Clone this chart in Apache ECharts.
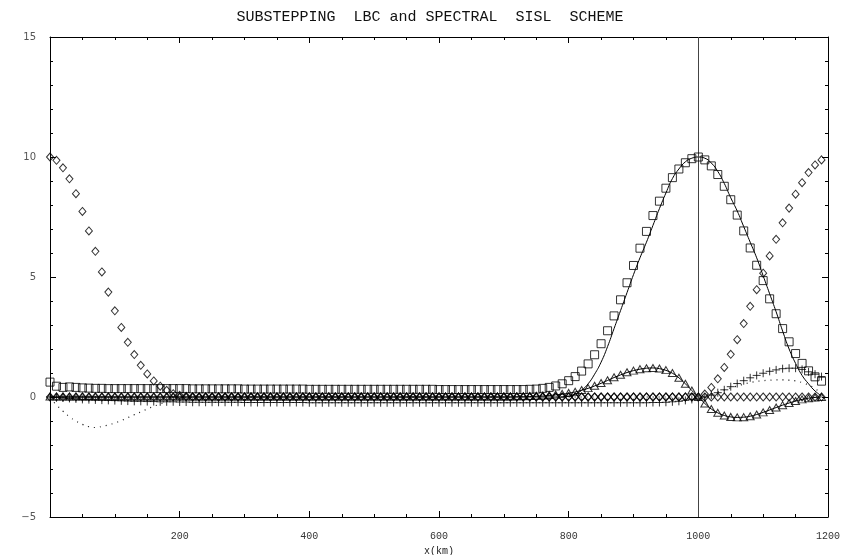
<!DOCTYPE html>
<html><head><meta charset="utf-8">
<script src="https://cdn.jsdelivr.net/npm/echarts@6/dist/echarts.min.js"></script>
<style>html,body{margin:0;padding:0;background:#fff}#c{width:860px;height:555px}</style>
</head><body><div id="c"></div>
<script>
const titleText = 'SUBSTEPPING  LBC and SPECTRAL  SISL  SCHEME';
const xName = 'x(km)';
const xKm = [0,10,20,30,40,50,60,70,80,90,100,110,120,130,140,150,160,170,180,190,
200,210,220,230,240,250,260,270,280,290,300,310,320,330,340,350,360,370,380,390,
400,410,420,430,440,450,460,470,480,490,500,510,520,530,540,550,560,570,580,590,
600,610,620,630,640,650,660,670,680,690,700,710,720,730,740,750,760,770,780,790,
800,810,820,830,840,850,860,870,880,890,900,910,920,930,940,950,960,970,980,990,
1000,1010,1020,1030,1040,1050,1060,1070,1080,1090,1100,1110,1120,1130,1140,1150,1160,1170,1180,1190];
const squareVals = [0.62,0.45,0.40,0.42,0.40,0.38,0.37,0.36,0.36,0.35,
0.35,0.35,0.35,0.35,0.35,0.35,0.35,0.35,0.35,0.35,
0.35,0.35,0.34,0.34,0.34,0.34,0.34,0.34,0.34,0.34,
0.33,0.33,0.33,0.33,0.33,0.33,0.33,0.33,0.33,0.33,
0.32,0.32,0.32,0.32,0.32,0.32,0.32,0.32,0.32,0.32,
0.32,0.32,0.32,0.32,0.32,0.32,0.32,0.32,0.32,0.32,
0.31,0.31,0.31,0.31,0.31,0.31,0.31,0.31,0.31,0.31,
0.31,0.31,0.31,0.31,0.32,0.33,0.36,0.40,0.46,0.55,
0.68,0.85,1.08,1.38,1.76,2.22,2.76,3.38,4.05,4.76,
5.48,6.20,6.90,7.56,8.16,8.70,9.14,9.50,9.76,9.93,
10.0,9.88,9.63,9.27,8.78,8.22,7.58,6.92,6.21,5.49,
4.85,4.09,3.47,2.85,2.30,1.81,1.40,1.09,0.84,0.66];
const diamondVals = [10.0,9.86,9.55,9.09,8.47,7.73,6.92,6.07,5.21,4.37,
3.59,2.90,2.28,1.77,1.32,0.96,0.67,0.45,0.28,0.14,
0.07,0.03,0.01,0,0,0,0,0,0,0,
0,0,0,0,0,0,0,0,0,0,
0,0,0,0,0,0,0,0,0,0,
0,0,0,0,0,0,0,0,0,0,
0,0,0,0,0,0,0,0,0,0,
0,0,0,0,0,0,0,0,0,0,
0,0,0,0,0,0,0,0,0,0,
0,0,0,0,0,0,0,0,0,0,
0.0,0.12,0.40,0.76,1.23,1.78,2.39,3.06,3.78,4.47,
5.16,5.88,6.57,7.26,7.87,8.45,8.93,9.35,9.67,9.88];
const diamondZeroVals = [0,0,0,0,0,0,0,0,0,0,0,0,0,0,0,0,0,0,0,0,
0,0,0,0,0,0,0,0,0,0,0,0,0,0,0,0,0,0,0,0,
0,0,0,0,0,0,0,0,0,0,0,0,0,0,0,0,0,0,0,0,
0,0,0,0,0,0,0,0,0,0,0,0,0,0,0,0,0,0,0,0,
0,0,0,0,0,0,0,0,0,0,0,0,0,0,0,0,0,0,0,0,
0,0,0,0,0,0,0,0,0,0,0,0,0,0,0,0,0,0,0,0];
const triangleVals = [0.02,0.02,0.02,0.02,0.02,0.02,0.02,0.02,0.02,0.02,
0.02,0.02,0.02,0.02,0.02,0.02,0.02,0.02,0.02,0.02,
0.02,0.02,0.02,0.02,0.02,0.02,0.02,0.02,0.02,0.02,
0.02,0.02,0.02,0.02,0.02,0.02,0.02,0.02,0.02,0.02,
0.02,0.02,0.02,0.02,0.02,0.02,0.02,0.02,0.02,0.02,
0.02,0.02,0.02,0.02,0.02,0.02,0.02,0.02,0.02,0.02,
0.02,0.02,0.02,0.02,0.02,0.02,0.02,0.02,0.02,0.02,
0.02,0.02,0.03,0.03,0.04,0.05,0.06,0.08,0.10,0.13,
0.17,0.22,0.29,0.37,0.47,0.58,0.70,0.82,0.93,1.03,
1.10,1.16,1.20,1.21,1.19,1.12,1.00,0.80,0.55,0.27,
0.00,-0.27,-0.50,-0.66,-0.77,-0.83,-0.85,-0.84,-0.80,-0.73,
-0.64,-0.54,-0.44,-0.34,-0.25,-0.17,-0.10,-0.05,-0.02,0.00];
const triLineVals = [0,0,0,0,0,0,0,0,0,0,0,0,0,0,0,0,0,0,0,0,
0,0,0,0,0,0,0,0,0,0,0,0,0,0,0,0,0,0,0,0,
0,0,0,0,0,0,0,0,0,0,0,0,0,0,0,0,0,0,0,0,
0,0,0,0,0,0,0,0,0,0,
0.00,0.00,0.01,0.01,0.02,0.03,0.04,0.06,0.09,0.12,
0.16,0.21,0.28,0.36,0.46,0.57,0.69,0.81,0.92,1.02,
1.10,1.16,1.20,1.21,1.18,1.11,0.99,0.80,0.55,0.27,
0.00,-0.27,-0.50,-0.66,-0.77,-0.83,-0.85,-0.84,-0.80,-0.73,
-0.64,-0.54,-0.44,-0.34,-0.25,-0.17,-0.10,-0.05,-0.02,0.00];
const plusVals = [0.00,-0.02,-0.04,-0.06,-0.08,-0.10,-0.11,-0.12,-0.13,-0.14,
-0.15,-0.16,-0.17,-0.18,-0.18,-0.19,-0.19,-0.20,-0.20,-0.20,
-0.21,-0.21,-0.22,-0.22,-0.22,-0.22,-0.22,-0.22,-0.22,-0.22,
-0.23,-0.23,-0.23,-0.23,-0.23,-0.23,-0.23,-0.23,-0.23,-0.23,
-0.24,-0.24,-0.24,-0.24,-0.24,-0.24,-0.24,-0.24,-0.24,-0.24,
-0.24,-0.24,-0.24,-0.24,-0.24,-0.24,-0.24,-0.24,-0.24,-0.24,
-0.24,-0.24,-0.24,-0.24,-0.24,-0.24,-0.24,-0.24,-0.24,-0.24,
-0.24,-0.24,-0.24,-0.24,-0.24,-0.24,-0.24,-0.24,-0.24,-0.24,
-0.24,-0.24,-0.24,-0.24,-0.24,-0.24,-0.24,-0.24,-0.24,-0.24,
-0.24,-0.24,-0.24,-0.23,-0.23,-0.22,-0.20,-0.18,-0.14,-0.10,
-0.05,0.00,0.08,0.18,0.30,0.43,0.56,0.68,0.80,0.90,
0.99,1.07,1.13,1.18,1.20,1.20,1.15,1.05,0.95,0.85];
const dottedVals = [-0.05,-0.33,-0.59,-0.82,-1.00,-1.14,-1.24,-1.27,-1.23,-1.16,
-1.08,-0.98,-0.86,-0.74,-0.62,-0.50,-0.39,-0.29,-0.19,-0.12,
-0.06,-0.03,-0.01,0,0,0,0,0,0,0,
0,0,0,0,0,0,0,0,0,0,0,0,0,0,0,0,0,0,0,0,
0,0,0,0,0,0,0,0,0,0,0,0,0,0,0,0,0,0,0,0,
0,0,0,0,0,0,0,0,0,0,0,0,0,0,0,0,0,0,0,0,
0,0,0,0,0,0,0,0,0,0,
0.00,0.05,0.12,0.20,0.29,0.38,0.46,0.54,0.60,0.65,
0.68,0.70,0.71,0.71,0.70,0.67,0.60,0.50,0.35,0.15];
const peakLineVals = [0,0,0,0,0,0,0,0,0,0,0,0,0,0,0,0,0,0,0,0,
0,0,0,0,0,0,0,0,0,0,0,0,0,0,0,0,0,0,0,0,
0,0,0,0,0,0,0,0,0,0,0,0,0,0,0,0,0,0,0,0,
0,0,0,0,0,0,0,0,0,0,
0,0,0,0,0,0,0,0,0,0.01,
0.04,0.12,0.28,0.55,0.95,1.45,2.10,2.85,3.60,4.35,
5.10,5.80,6.45,7.15,7.85,8.50,9.10,9.50,9.80,9.95,
10.0,9.95,9.75,9.40,8.90,8.30,7.75,7.10,6.45,5.80,
5.05,4.30,3.55,2.75,2.00,1.40,0.90,0.55,0.25,0.05];
const vertLineX = 1000;
const yTickMin = -5, yTickMax = 15, yStep = 5;
const xTickMin = 0, xTickMax = 1200, xStep = 200;

function pairs(vals){ return xKm.map((x,i)=>[x, vals[i]]); }

const chart = echarts.init(document.getElementById('c'), null, {renderer:'canvas'});
const hollow = {color:'rgba(0,0,0,0)', borderColor:'#000', borderWidth:1};
const axisCommon = {
  axisLine:{show:true, onZero:false, lineStyle:{color:'#000', width:1}},
  axisTick:{show:true, inside:true, length:6, lineStyle:{color:'#000'}},
  minorTick:{show:true, length:3, lineStyle:{color:'#000'}},
  splitLine:{show:false}
};
chart.setOption({
  animation:false,
  backgroundColor:'#fff',
  title:{text:titleText, left:'center', top:5,
    textStyle:{fontFamily:'Liberation Mono', fontSize:15, fontWeight:'normal', color:'#111'}},
  grid:{left:50, right:32, top:37, bottom:38, containLabel:false, outerBoundsMode:'none'},
  xAxis:[
    Object.assign({type:'value', min:xTickMin, max:xTickMax, interval:xStep, position:'bottom',
      name:xName, nameLocation:'middle', nameGap:27,
      nameTextStyle:{fontFamily:'Liberation Mono', fontSize:10, color:'#222'},
      axisLabel:{fontFamily:'Liberation Mono', fontSize:10, color:'#333', margin:14,
        formatter:v=> v===0 ? '' : String(v)},
    }, axisCommon, {minorTick:{show:true, splitNumber:4, length:3, lineStyle:{color:'#000'}}}),
    Object.assign({type:'value', min:xTickMin, max:xTickMax, interval:xStep, position:'top',
      axisLabel:{show:false}}, axisCommon, {minorTick:{show:true, splitNumber:4, length:3, lineStyle:{color:'#000'}}})
  ],
  yAxis:[
    Object.assign({type:'value', min:yTickMin, max:yTickMax, interval:yStep, position:'left',
      axisLabel:{fontFamily:'DejaVu Sans', fontSize:10, color:'#555', margin:14,
        formatter:v=> v<0 ? '\u2212' + Math.abs(v) : String(v)}},
      axisCommon, {minorTick:{show:true, splitNumber:5, length:3, lineStyle:{color:'#000'}}}),
    Object.assign({type:'value', min:yTickMin, max:yTickMax, interval:yStep, position:'right',
      axisLabel:{show:false}}, axisCommon, {minorTick:{show:true, splitNumber:5, length:3, lineStyle:{color:'#000'}}})
  ],
  series:[
    {type:'line', data:pairs(dottedVals), showSymbol:false, symbol:'none', smooth:true,
      lineStyle:{color:'#111', width:1.2, type:[1,5]}, z:2},
    {type:'line', data:pairs(peakLineVals), showSymbol:false, symbol:'none', smooth:true,
      lineStyle:{color:'#000', width:1}, z:3,
      markLine:{silent:true, symbol:'none', label:{show:false},
        lineStyle:{color:'#444', width:1, type:'solid'}, data:[{xAxis:vertLineX}]}},
    {type:'line', data:pairs(triLineVals), showSymbol:false, symbol:'none', smooth:true,
      lineStyle:{color:'#000', width:1}, z:3},
    {type:'scatter', data:pairs(diamondZeroVals), symbol:'diamond', symbolSize:[7,8], itemStyle:hollow, z:4},
    {type:'scatter', data:pairs(plusVals), symbol:'path://M0,5H10M5,0V10', symbolSize:8,
      itemStyle:{color:'rgba(0,0,0,0)', borderColor:'#000', borderWidth:1}, z:4},
    {type:'scatter', data:pairs(triangleVals), symbol:'triangle', symbolSize:[8,7], itemStyle:hollow, z:4},
    {type:'scatter', data:pairs(diamondVals), symbol:'diamond', symbolSize:[7,8], itemStyle:hollow, z:5},
    {type:'scatter', data:pairs(squareVals), symbol:'rect', symbolSize:8, itemStyle:hollow, z:5}
  ]
});
</script></body></html>
